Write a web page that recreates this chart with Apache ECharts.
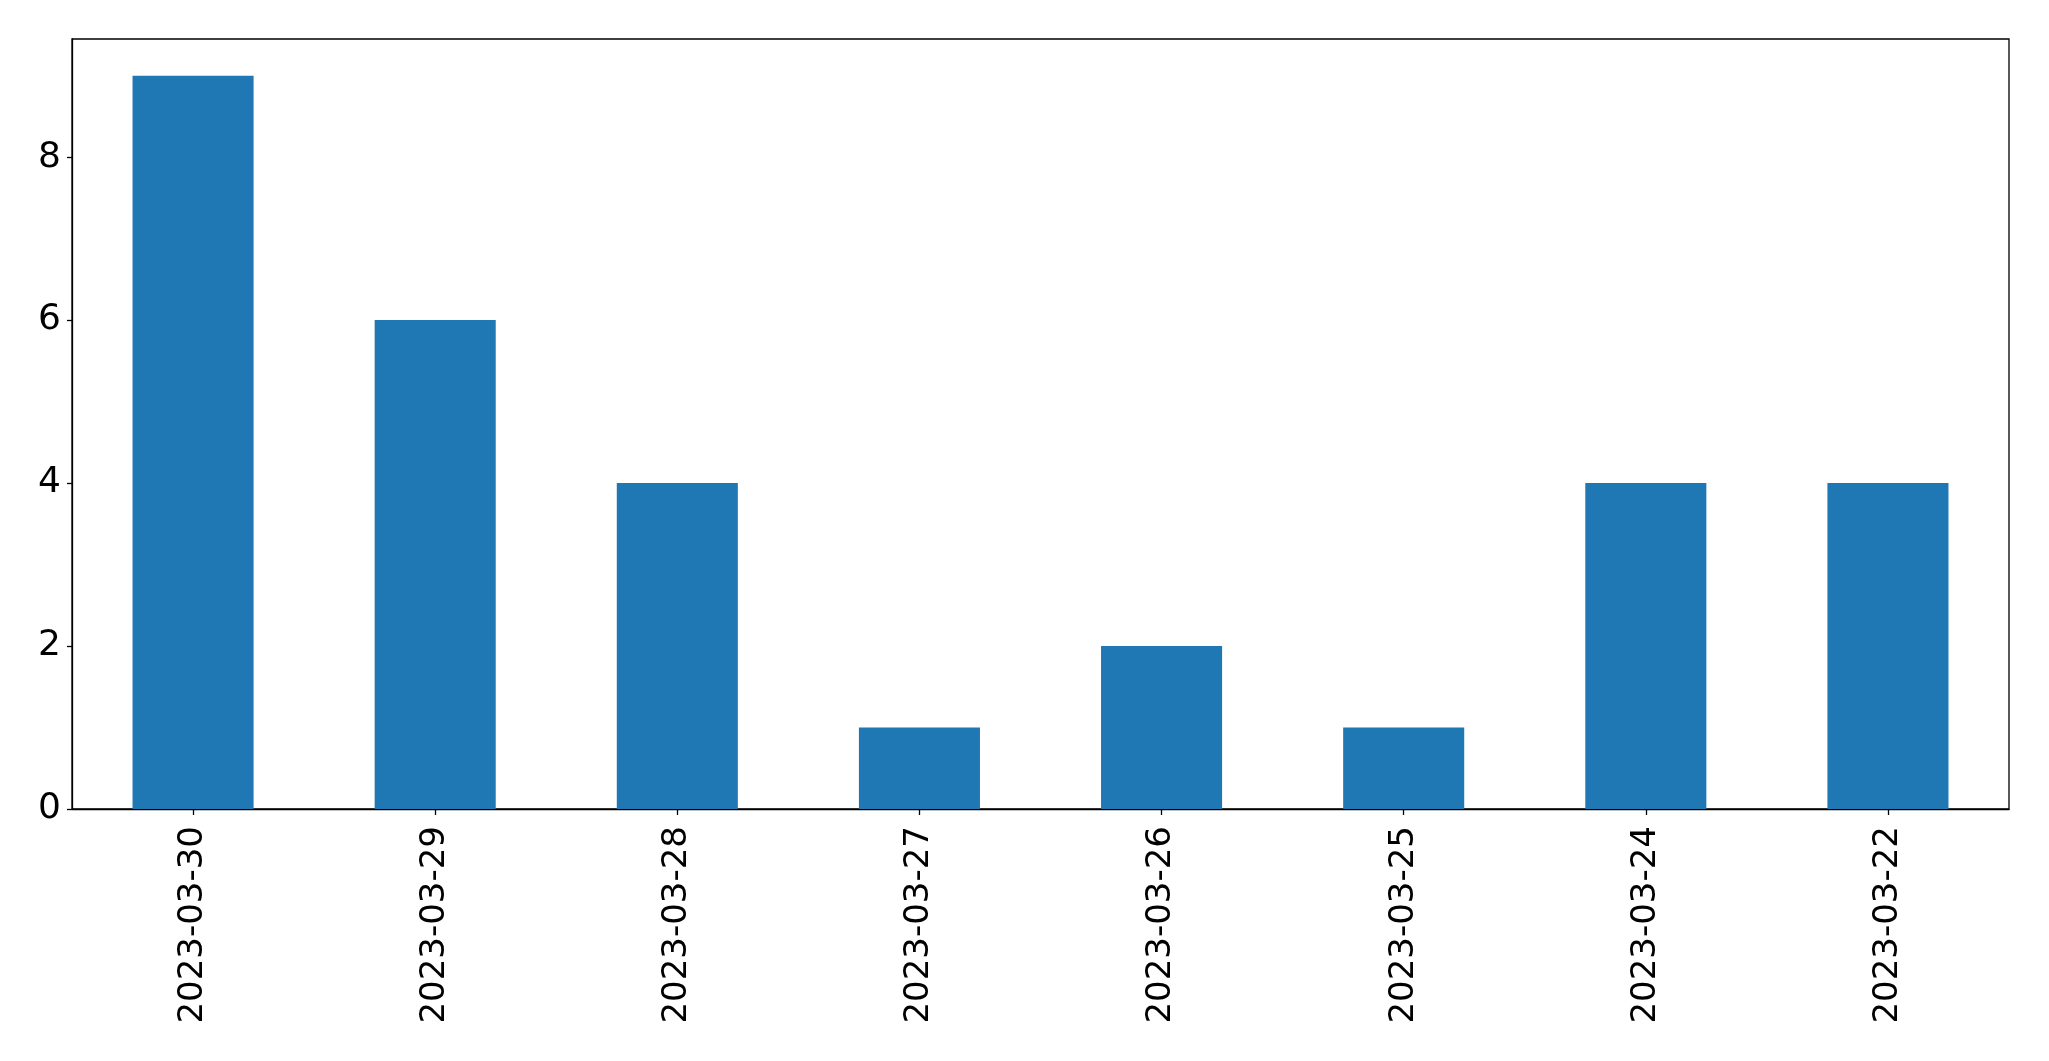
<!DOCTYPE html>
<html>
<head>
<meta charset="utf-8">
<script src="https://cdn.jsdelivr.net/npm/echarts@6/dist/echarts.min.js"></script>
<style>
html,body{margin:0;padding:0;background:#fff;}
#chart{width:2049px;height:1061px;}
</style>
</head>
<body>
<div id="chart"></div>
<script>
const categories = ["2023-03-30","2023-03-29","2023-03-28","2023-03-27","2023-03-26","2023-03-25","2023-03-24","2023-03-22"];
const values = [9, 6, 4, 1, 2, 1, 4, 4];
const yTicks = [0, 2, 4, 6, 8];

const chart = echarts.init(document.getElementById('chart'), null, {renderer: 'canvas'});
const font = 'DejaVu Sans';
chart.setOption({
  animation: false,
  backgroundColor: '#ffffff',
  grid: {
    left: 72, top: 39, width: 1937, height: 770,
    show: true, borderColor: '#000', borderWidth: 1.3, backgroundColor: 'transparent'
  },
  xAxis: {
    type: 'category',
    data: categories,
    boundaryGap: true,
    axisLine: {show: true, lineStyle: {color: '#000', width: 1.3}},
    axisTick: {show: true, alignWithLabel: true, length: 6, lineStyle: {color: '#000', width: 1.3}},
    axisLabel: {rotate: 90, margin: 17, fontFamily: font, fontSize: 34, color: '#000', interval: 0},
    splitLine: {show: false}
  },
  yAxis: {
    type: 'value',
    min: 0, max: 9.45,
    axisLine: {show: true, lineStyle: {color: '#000', width: 1.3}},
    axisTick: {show: true, length: 5, customValues: yTicks, lineStyle: {color: '#000', width: 1.3}},
    axisLabel: {
      customValues: yTicks,
      margin: 11, fontFamily: font, fontSize: 36, color: '#000',
      padding: [7, 0, 0, 0]
    },
    splitLine: {show: false}
  },
  series: [{
    type: 'bar',
    data: values,
    barWidth: '50%',
    itemStyle: {color: '#1f77b4'}
  }]
});
</script>
</body>
</html>
